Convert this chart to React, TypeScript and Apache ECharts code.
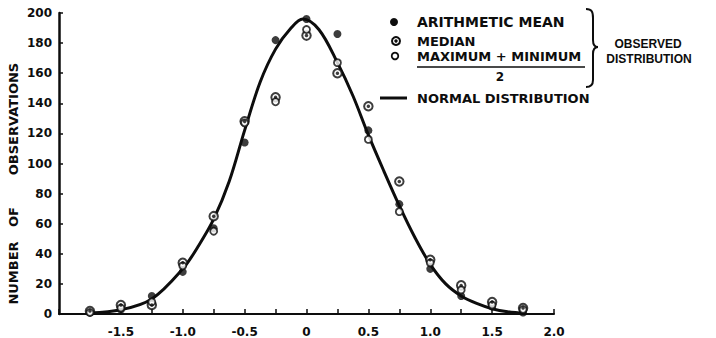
import React, { useEffect, useRef } from "react";
import * as echarts from "echarts";

// Observed distributions (x in standard units, y = number of observations)
const xValues = [-1.75, -1.5, -1.25, -1.0, -0.75, -0.5, -0.25, 0, 0.25, 0.5, 0.75, 1.0, 1.25, 1.5, 1.75];
const arithmeticMean = [1, 3, 12, 28, 57, 114, 182, 196, 186, 122, 73, 30, 12, 5, 1];
const medianValues = [2, 6, 6, 34, 65, 128, 144, 185, 160, 138, 88, 36, 19, 8, 4];
const maxMinHalf = [1, 4, 8, 32, 55, 127, 141, 189, 167, 116, 68, 34, 16, 6, 3];

// Normal distribution curve
const curveX = [-1.75, -1.5, -1.25, -1.0, -0.875, -0.75, -0.625, -0.5, -0.375, -0.25, -0.125, -0.03, 0.1, 0.25, 0.375, 0.5, 0.625, 0.75, 0.875, 1.0, 1.125, 1.25, 1.375, 1.5, 1.625, 1.77];
const curveY = [0.7, 2.8, 10, 30, 45, 63, 88, 122, 154, 176, 190, 196, 189, 167, 145, 119, 95, 72, 51, 33, 20, 12, 7, 3.5, 1.5, 0.5];

const xLabelValues = [-1.5, -1.0, -0.5, 0, 0.5, 1.0, 1.5, 2.0];

const INK = "#0d0d0d";
const FONT = "DejaVu Sans";

const zip = (xs: number[], ys: number[]) => xs.map((x, i) => [x, ys[i]]);

export default function App() {
  const ref = useRef<HTMLDivElement>(null);

  useEffect(() => {
    if (!ref.current) return;
    const chart = echarts.init(ref.current, undefined, { renderer: "svg" });

    const labelStyle = { fontFamily: FONT, fontWeight: "bold" as const, fontSize: 12, color: INK };
    const txt = (text: string, x: number, y: number, extra: any = {}) => ({
      type: "text",
      x,
      y,
      style: {
        text,
        fill: INK,
        font: `bold ${extra.fontSize || 13}px "${extra.family || FONT}"`,
        textAlign: extra.align || "left",
        textVerticalAlign: "middle",
      },
      rotation: extra.rotation || 0,
    });

    chart.setOption({
      animation: false,
      backgroundColor: "#fff",
      grid: { left: 59, right: 162, top: 13, bottom: 22, containLabel: false },
      xAxis: {
        type: "value",
        min: -2,
        max: 2,
        interval: 0.25,
        axisLine: { onZero: true, lineStyle: { color: INK, width: 2 } },
        axisTick: { inside: true, length: 5, lineStyle: { color: INK, width: 1.5 } },
        splitLine: { show: false },
        axisLabel: {
          ...labelStyle,
          margin: 12,
          showMinLabel: true,
          showMaxLabel: true,
          formatter: (v: number) => {
            const hit = xLabelValues.find((t) => Math.abs(t - v) < 1e-6);
            if (hit === undefined) return "";
            return hit === 0 ? "0" : hit.toFixed(1);
          },
        },
      },
      yAxis: {
        type: "value",
        min: 0,
        max: 200,
        interval: 20,
        axisLine: { show: true, onZero: false, lineStyle: { color: INK, width: 2.5 } },
        axisTick: { show: true, inside: true, length: 4, lineStyle: { color: INK, width: 1.5 } },
        splitLine: { show: false },
        axisLabel: { ...labelStyle, margin: 7 },
      },
      series: [
        {
          name: "Normal distribution",
          type: "line",
          data: zip(curveX, curveY),
          smooth: 0.35,
          symbol: "none",
          lineStyle: { color: INK, width: 3 },
          z: 1,
        },
        {
          name: "Arithmetic mean",
          type: "scatter",
          data: zip(xValues, arithmeticMean),
          symbol: "circle",
          symbolSize: 8,
          itemStyle: { color: INK },
          z: 3,
        },
        {
          name: "Median",
          type: "scatter",
          data: zip(xValues, medianValues),
          symbol: "circle",
          symbolSize: 8.5,
          itemStyle: { color: "#fff", borderColor: INK, borderWidth: 2 },
          z: 4,
        },
        {
          name: "Median centre",
          type: "scatter",
          data: zip(xValues, medianValues),
          symbol: "circle",
          symbolSize: 3.5,
          itemStyle: { color: INK },
          z: 5,
        },
        {
          name: "(Maximum + Minimum)/2",
          type: "scatter",
          data: zip(xValues, maxMinHalf),
          symbol: "circle",
          symbolSize: 7,
          itemStyle: { color: "#fff", borderColor: INK, borderWidth: 1.8 },
          z: 4,
        },
      ],
      graphic: [
        // y-axis title
        txt("NUMBER", 13, 273, { rotation: Math.PI / 2, align: "center" }),
        txt("OF", 13, 217, { rotation: Math.PI / 2, align: "center" }),
        txt("OBSERVATIONS", 13, 119, { rotation: Math.PI / 2, align: "center" }),
        // legend symbols
        { type: "circle", shape: { cx: 394, cy: 22, r: 4 }, style: { fill: INK } },
        { type: "circle", shape: { cx: 396, cy: 41, r: 4 }, style: { fill: "#fff", stroke: INK, lineWidth: 2 } },
        { type: "circle", shape: { cx: 396, cy: 41, r: 1.7 }, style: { fill: INK } },
        { type: "circle", shape: { cx: 395, cy: 56, r: 3.3 }, style: { fill: "#fff", stroke: INK, lineWidth: 1.8 } },
        { type: "line", shape: { x1: 380, y1: 98, x2: 407, y2: 98 }, style: { stroke: INK, lineWidth: 3 } },
        // legend texts
        txt("ARITHMETIC MEAN", 417, 22, { fontSize: 14 }),
        txt("MEDIAN", 417, 41, { fontSize: 13 }),
        txt("MAXIMUM + MINIMUM", 417, 56.5, { fontSize: 13 }),
        { type: "line", shape: { x1: 417, y1: 67, x2: 585, y2: 67 }, style: { stroke: INK, lineWidth: 1.5 } },
        txt("2", 500, 76.5, { align: "center", fontSize: 12 }),
        txt("NORMAL DISTRIBUTION", 417, 98, { fontSize: 13 }),
        // brace
        { type: "bezierCurve", shape: { x1: 586, y1: 9, cpx1: 592, cpy1: 9, cpx2: 593, cpy2: 12, x2: 593, y2: 18 }, style: { stroke: INK, lineWidth: 2, fill: null } },
        { type: "line", shape: { x1: 593, y1: 18, x2: 593, y2: 40 }, style: { stroke: INK, lineWidth: 2 } },
        { type: "bezierCurve", shape: { x1: 593, y1: 40, cpx1: 593, cpy1: 45, cpx2: 595, cpy2: 47, x2: 598, y2: 47 }, style: { stroke: INK, lineWidth: 2, fill: null } },
        { type: "bezierCurve", shape: { x1: 598, y1: 47, cpx1: 595, cpy1: 47, cpx2: 593, cpy2: 49, x2: 593, y2: 54 }, style: { stroke: INK, lineWidth: 2, fill: null } },
        { type: "line", shape: { x1: 593, y1: 54, x2: 593, y2: 80 }, style: { stroke: INK, lineWidth: 2 } },
        { type: "bezierCurve", shape: { x1: 593, y1: 80, cpx1: 593, cpy1: 85, cpx2: 591, cpy2: 87, x2: 586, y2: 87 }, style: { stroke: INK, lineWidth: 2, fill: null } },
        txt("OBSERVED", 648, 44, { align: "center", fontSize: 12, family: "Liberation Sans" }),
        txt("DISTRIBUTION", 649, 59, { align: "center", fontSize: 12, family: "Liberation Sans" }),
      ],
    });

    return () => chart.dispose();
  }, []);

  return (
    <div
      ref={ref}
      style={{ position: "absolute", left: 0, top: 0, width: 716, height: 338, background: "#fff" }}
    />
  );
}
